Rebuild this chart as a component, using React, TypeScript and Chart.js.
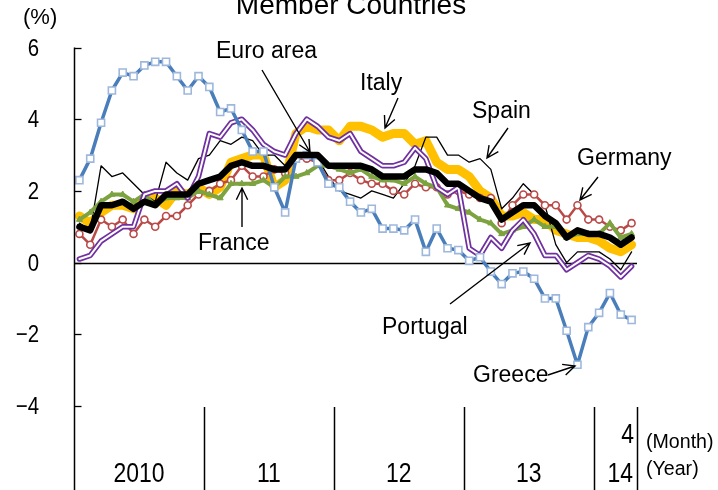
import React, { useEffect, useRef } from "react";
import { Chart, registerables } from "chart.js";
Chart.register(...registerables);

// ---- data (y/y % change, monthly, Jan 2010 - Apr 2014) ----
const months: string[] = [];
for (let y = 2010; y <= 2014; y++) {
  for (let m = 1; m <= 12; m++) {
    if (y === 2014 && m > 4) break;
    months.push(`${y}-${m}`);
  }
}
const yearLabels = ["2010", "11", "12", "13", "14"];
const yearStartIdx = [0, 12, 24, 36, 48];
const lastMonthLabel = "4";
const yTicks = [6, 4, 2, 0, -2, -4];

const italy = [1.3, 1.1, 1.4, 1.6, 1.6, 1.5, 1.8, 1.8, 1.6, 2.0, 1.9, 2.1,
  1.9, 2.1, 2.8, 2.9, 3.0, 3.0, 2.1, 2.3, 3.6, 3.8, 3.7, 3.7,
  3.4, 3.8, 3.8, 3.7, 3.5, 3.6, 3.6, 3.3, 3.4, 2.8, 2.6, 2.6,
  2.4, 2.0, 1.8, 1.3, 1.3, 1.4, 1.2, 1.2, 0.9, 0.8, 0.7, 0.7,
  0.6, 0.4, 0.3, 0.5];
const spain = [1.1, 0.9, 2.7, 2.4, 2.5, 2.2, 1.9, 1.7, 2.8, 2.5, 2.3, 2.9,
  3.0, 3.4, 3.3, 3.5, 3.4, 3.0, 3.0, 2.7, 3.0, 3.0, 2.9, 2.4,
  2.0, 1.9, 1.8, 2.0, 1.9, 1.8, 2.2, 2.7, 3.5, 3.5, 3.0, 3.0,
  2.8, 2.9, 2.6, 1.5, 1.8, 2.2, 1.9, 1.6, 0.5, 0.0, 0.3, 0.3,
  0.3, 0.1, -0.2, 0.3];
const germany = [0.8, 0.5, 1.2, 1.0, 1.2, 0.8, 1.2, 1.0, 1.3, 1.3, 1.6, 1.9,
  2.0, 2.2, 2.3, 2.7, 2.4, 2.4, 2.6, 2.5, 2.9, 2.9, 2.8, 2.3,
  2.3, 2.5, 2.3, 2.2, 2.2, 2.0, 1.9, 2.2, 2.1, 2.1, 1.9, 2.0,
  1.9, 1.8, 1.8, 1.1, 1.6, 1.9, 1.9, 1.6, 1.6, 1.2, 1.6, 1.2,
  1.2, 1.0, 0.9, 1.1];
const france = [1.2, 1.4, 1.7, 1.9, 1.9, 1.7, 1.9, 1.6, 1.8, 1.8, 1.8, 2.0,
  1.9, 1.8, 2.2, 2.2, 2.2, 2.3, 2.1, 2.4, 2.4, 2.5, 2.7, 2.7,
  2.6, 2.5, 2.6, 2.4, 2.3, 2.3, 2.2, 2.4, 2.2, 2.1, 1.6, 1.5,
  1.4, 1.2, 1.1, 0.8, 0.9, 1.0, 1.2, 1.0, 1.0, 0.7, 0.8, 0.8,
  0.8, 1.1, 0.7, 0.8];
const portugal = [0.1, 0.2, 0.6, 0.8, 1.0, 1.0, 1.9, 2.0, 2.0, 2.2, 1.8, 2.4,
  3.6, 3.5, 3.9, 4.0, 3.7, 3.3, 3.1, 3.0, 3.6, 4.0, 3.8, 3.5,
  3.4, 3.6, 3.1, 2.9, 2.7, 2.7, 2.8, 3.2, 2.9, 2.1, 1.9, 2.1,
  0.4, 0.2, 0.7, 0.4, 0.9, 1.2, 0.8, 0.2, 0.2, -0.2, 0.0, 0.2,
  0.1, -0.1, -0.4, -0.1];
const greece = [2.3, 2.9, 3.9, 4.8, 5.3, 5.2, 5.5, 5.6, 5.6, 5.2, 4.8, 5.2,
  4.9, 4.2, 4.3, 3.7, 3.1, 3.1, 2.1, 1.4, 2.9, 3.0, 2.8, 2.2,
  2.1, 1.7, 1.4, 1.5, 0.95, 0.95, 0.9, 1.2, 0.3, 0.95, 0.4, 0.35,
  0.05, 0.15, -0.25, -0.6, -0.3, -0.25, -0.45, -1.0, -1.0, -1.9, -2.85, -1.8,
  -1.4, -0.85, -1.45, -1.6];
const euroArea = [1.0, 0.9, 1.6, 1.6, 1.7, 1.5, 1.7, 1.6, 1.9, 1.9, 1.9, 2.2,
  2.3, 2.4, 2.7, 2.8, 2.7, 2.7, 2.6, 2.6, 3.0, 3.0, 3.0, 2.7,
  2.7, 2.7, 2.7, 2.6, 2.4, 2.4, 2.4, 2.6, 2.6, 2.5, 2.2, 2.2,
  2.0, 1.8, 1.7, 1.2, 1.4, 1.6, 1.6, 1.3, 1.1, 0.7, 0.9, 0.8,
  0.8, 0.7, 0.5, 0.7];

// ---- annotations (pixel layout) ----
const FONT = '"Liberation Sans", Arial, sans-serif';
const notes = [
  { text: "Euro area", x: 216, y: 58, ax: 262, ay: 70, bx: 310, by: 152 },
  { text: "Italy", x: 360, y: 90, ax: 398, ay: 98, bx: 385, by: 128 },
  { text: "Spain", x: 472, y: 118, ax: 508, ay: 128, bx: 487, by: 158 },
  { text: "Germany", x: 577, y: 165, ax: 598, ay: 177, bx: 580, by: 200 },
  { text: "France", x: 198, y: 250, ax: 242, ay: 227, bx: 242, by: 188 },
  { text: "Portugal", x: 382, y: 334, ax: 450, ay: 304, bx: 530, by: 243 },
  { text: "Greece", x: 473, y: 382, ax: 548, ay: 375, bx: 575, by: 366 },
];

function arrow(ctx: CanvasRenderingContext2D, ax: number, ay: number, bx: number, by: number) {
  ctx.beginPath();
  ctx.moveTo(ax, ay);
  ctx.lineTo(bx, by);
  const ang = Math.atan2(by - ay, bx - ax);
  const L = 13, sp = 0.45;
  ctx.moveTo(bx - L * Math.cos(ang - sp), by - L * Math.sin(ang - sp));
  ctx.lineTo(bx, by);
  ctx.lineTo(bx - L * Math.cos(ang + sp), by - L * Math.sin(ang + sp));
  ctx.stroke();
}

function condensedText(ctx: CanvasRenderingContext2D, text: string, x: number, y: number, sx: number, align: "left" | "right" | "center") {
  ctx.save();
  ctx.translate(x, y);
  ctx.scale(sx, 1);
  ctx.textAlign = align;
  ctx.fillText(text, 0, 0);
  ctx.restore();
}

const overlay = {
  id: "overlay",
  beforeDatasetsDraw(chart: any) {
    const ctx: CanvasRenderingContext2D = chart.ctx;
    const { left, right } = chart.chartArea;
    const ys = chart.scales.y;
    ctx.save();
    ctx.strokeStyle = "#000";
    ctx.lineWidth = 1.3;
    const y0 = Math.round(ys.getPixelForValue(0)) + 0.5;
    ctx.beginPath();
    ctx.moveTo(left, y0);
    ctx.lineTo(right, y0);
    ctx.stroke();
    ctx.restore();
  },
  afterDatasetsDraw(chart: any) {
    const ctx: CanvasRenderingContext2D = chart.ctx;
    const { left, right, bottom } = chart.chartArea;
    const xs = chart.scales.x;
    const ys = chart.scales.y;
    const H = chart.height;
    ctx.save();
    ctx.strokeStyle = "#000";
    ctx.fillStyle = "#000";
    // y axis
    ctx.lineWidth = 1.5;
    const axX = Math.round(left) + 0.5;
    ctx.beginPath();
    ctx.moveTo(axX, ys.getPixelForValue(6));
    ctx.lineTo(axX, H);
    ctx.stroke();
    ctx.lineWidth = 1.3;
    ctx.font = `24px ${FONT}`;
    ctx.textBaseline = "middle";
    yTicks.forEach((v) => {
      const py = Math.round(ys.getPixelForValue(v)) + 0.5;
      ctx.beginPath();
      ctx.moveTo(axX, py);
      ctx.lineTo(axX + 7, py);
      ctx.stroke();
      const lab = v < 0 ? "\u2212" + Math.abs(v) : String(v);
      condensedText(ctx, lab, 39, py + 1, 0.85, "right");
    });
    ctx.textBaseline = "alphabetic";
    ctx.font = `22px ${FONT}`;
    ctx.textAlign = "left";
    ctx.fillText("(%)", 23, 24);
    // title (partially cut at the top)
    ctx.font = `28px ${FONT}`;
    ctx.textAlign = "center";
    ctx.fillText("Member Countries", 351, 14);
    // year separators
    ctx.lineWidth = 1.5;
    const sepTop = bottom + 1;
    const bounds: number[] = [];
    yearStartIdx.forEach((s, k) => {
      if (k > 0) bounds.push((xs.getPixelForValue(s - 1) + xs.getPixelForValue(s)) / 2);
    });
    bounds.push(right);
    bounds.forEach((bx) => {
      const px = Math.round(bx) + 0.5;
      ctx.beginPath();
      ctx.moveTo(px, sepTop);
      ctx.lineTo(px, H);
      ctx.stroke();
    });
    // year labels
    ctx.font = `27px ${FONT}`;
    const edges = [left, ...bounds];
    yearLabels.forEach((lab, k) => {
      const cx = (edges[k] + edges[k + 1]) / 2;
      if (k === yearLabels.length - 1) {
        condensedText(ctx, lab, edges[k + 1] - 4, 482, 0.85, "right");
      } else {
        condensedText(ctx, lab, cx, 482, 0.85, "center");
      }
    });
    condensedText(ctx, lastMonthLabel, right - 3, 443, 0.85, "right");
    ctx.font = `20px ${FONT}`;
    condensedText(ctx, "(Month)", right + 9, 448, 0.98, "left");
    condensedText(ctx, "(Year)", right + 9, 475, 0.98, "left");
    // annotations
    ctx.font = `23px ${FONT}`;
    ctx.textAlign = "left";
    ctx.lineWidth = 1.4;
    notes.forEach((n) => {
      ctx.fillText(n.text, n.x, n.y);
      arrow(ctx, n.ax, n.ay, n.bx, n.by);
    });
    ctx.restore();
  },
};

export default function App() {
  const ref = useRef<HTMLCanvasElement | null>(null);
  useEffect(() => {
    if (!ref.current) return;
    const base = { pointRadius: 0, tension: 0, borderJoinStyle: "round" as const, borderCapStyle: "round" as const };
    const chart = new Chart(ref.current, {
      type: "line",
      data: {
        labels: months,
        datasets: [
          { ...base, label: "Italy", data: italy, borderColor: "#FFC000", borderWidth: 9, order: 9 },
          { ...base, label: "Spain", data: spain, borderColor: "#000000", borderWidth: 1.3, order: 8 },
          {
            ...base, label: "Germany", data: germany, borderColor: "#B94A48", borderWidth: 2.5, order: 7,
            pointRadius: 3.5, pointStyle: "circle", pointBackgroundColor: "#ffffff", pointBorderColor: "#B94A48", pointBorderWidth: 1.6,
          },
          {
            ...base, label: "France", data: france, borderColor: "#7DA340", borderWidth: 4, order: 6,
            pointRadius: 3.5, pointStyle: "triangle", pointBackgroundColor: "#7DA340", pointBorderColor: "#7DA340", pointBorderWidth: 1,
          },
          { ...base, label: "Portugal", data: portugal, borderColor: "#7030A0", borderWidth: 5.5, order: 5 },
          { ...base, label: "Portugal inner", data: portugal, borderColor: "#ffffff", borderWidth: 2, order: 4 },
          {
            ...base, label: "Greece", data: greece, borderColor: "#4A7EBB", borderWidth: 3.5, order: 3,
            pointRadius: 5, pointStyle: "rect", pointBackgroundColor: "#ffffff", pointBorderColor: "#9DB8DC", pointBorderWidth: 1.6,
          },
          { ...base, label: "Euro area", data: euroArea, borderColor: "#000000", borderWidth: 6.5, order: 1 },
        ],
      },
      options: {
        responsive: false,
        animation: false,
        devicePixelRatio: 1,
        layout: { padding: { left: 74, right: 81, top: 47.5, bottom: 84 } },
        plugins: { legend: { display: false }, tooltip: { enabled: false }, title: { display: false } },
        scales: {
          x: { type: "category", display: false, offset: true },
          y: { type: "linear", display: false, min: -4, max: 6 },
        },
      },
      plugins: [overlay],
    });
    return () => chart.destroy();
  }, []);
  return (
    <div style={{ position: "absolute", left: 0, top: 0, width: 718, height: 490, background: "#fff" }}>
      <canvas ref={ref} width={718} height={490} />
    </div>
  );
}
